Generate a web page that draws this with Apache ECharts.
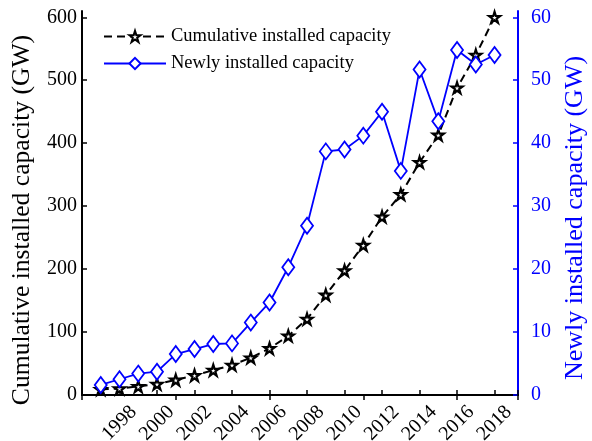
<!DOCTYPE html>
<html>
<head>
<meta charset="utf-8">
<script src="https://cdn.jsdelivr.net/npm/echarts@6/dist/echarts.min.js"></script>
<style>
  html, body { margin: 0; padding: 0; background: #fff; }
  #chart { width: 592px; height: 441px; }
</style>
</head>
<body>
<div id="chart"></div>
<script>
// Wind power installed capacity, 1997-2018
const years = [1997, 1998, 1999, 2000, 2001, 2002, 2003, 2004, 2005, 2006, 2007,
               2008, 2009, 2010, 2011, 2012, 2013, 2014, 2015, 2016, 2017, 2018];
// Cumulative installed capacity (GW), left axis
const cumulative = [9, 10.2, 13.6, 17.4, 23.9, 31.1, 39.4, 47.6, 59.1, 74.0, 93.9,
                    120.6, 158.9, 197.6, 238.0, 283.0, 318.7, 369.6, 413.0, 488.0, 540.0, 600.0];
// Newly installed capacity (GW), right axis
const newly = [1.6, 2.5, 3.4, 3.7, 6.5, 7.3, 8.1, 8.2, 11.5, 14.7, 20.3,
               26.9, 38.7, 39.0, 41.2, 45.0, 35.6, 51.7, 43.5, 54.8, 52.5, 54.0];
// Year labels along the bottom axis
const yearTicks = [1998, 2000, 2002, 2004, 2006, 2008, 2010, 2012, 2014, 2016, 2018];

const FONT = 'Liberation Serif';
const BLUE = '#0000ff';
const STAR = 'path://M50,0 L61.2,34.5 L97.6,34.5 L68.2,55.9 L79.4,90.5 L50,69.1 L20.6,90.5 L31.8,55.9 L2.4,34.5 L38.8,34.5 Z';

// Rotated year labels sit a little to the right of their ticks
const LABEL_SHIFT = 0.75;
const X_MIN = 1996, X_MAX = 2019.25;

const chart = echarts.init(document.getElementById('chart'));
chart.setOption({
  animation: false,
  backgroundColor: '#fff',
  grid: { left: 82, right: 74, top: 11, bottom: 46, outerBoundsMode: 'none', containLabel: false },
  legend: {
    orient: 'vertical',
    left: 98,
    top: 22,
    itemWidth: 62,
    itemHeight: 14,
    itemGap: 8,
    textStyle: { fontFamily: FONT, fontSize: 18.5, color: '#000' },
    data: ['Cumulative installed capacity', 'Newly installed capacity']
  },
  xAxis: [
    {
      type: 'value', position: 'bottom', min: X_MIN, max: X_MAX, interval: 2,
      axisLine: { lineStyle: { color: '#000', width: 2 } },
      axisTick: { inside: true, length: 5, lineStyle: { color: '#000', width: 1.5 } },
      axisLabel: { show: false },
      splitLine: { show: false }
    },
    {
      type: 'value', position: 'top', min: X_MIN, max: X_MAX, interval: 5,
      axisLine: { lineStyle: { color: '#000', width: 2 } },
      axisTick: { inside: true, length: 5, lineStyle: { color: '#000', width: 1.5 } },
      axisLabel: { show: false },
      splitLine: { show: false }
    },
    {
      type: 'value', position: 'bottom',
      min: X_MIN - LABEL_SHIFT, max: X_MAX - LABEL_SHIFT, interval: 0.25,
      axisLine: { show: false },
      axisTick: { show: false },
      splitLine: { show: false },
      axisLabel: {
        rotate: 45, margin: 14,
        fontFamily: FONT, fontSize: 20, color: '#000',
        formatter: function (v) {
          const r = Math.round(v);
          return (Math.abs(v - r) < 1e-6 && yearTicks.indexOf(r) >= 0) ? String(r) : '';
        }
      }
    }
  ],
  yAxis: [
    {
      type: 'value', position: 'left', min: 0, max: 610, interval: 100,
      name: 'Cumulative installed capacity (GW)',
      nameLocation: 'middle', nameGap: 47,
      nameTextStyle: { fontFamily: FONT, fontSize: 25.6, color: '#000', padding: [0, 34, 0, 0] },
      axisLine: { show: true, lineStyle: { color: '#000', width: 2 } },
      axisTick: { show: true, inside: true, length: 5, lineStyle: { color: '#000', width: 1.5 } },
      axisLabel: { showMaxLabel: false, margin: 5, fontFamily: FONT, fontSize: 20, color: '#000' },
      splitLine: { show: false }
    },
    {
      type: 'value', position: 'right', min: 0, max: 61, interval: 10,
      name: 'Newly installed capacity (GW)',
      nameLocation: 'middle', nameGap: 42,
      nameTextStyle: { fontFamily: FONT, fontSize: 26, color: BLUE, padding: [0, 30, 0, 0] },
      axisLine: { show: true, lineStyle: { color: BLUE, width: 2 } },
      axisTick: { show: true, inside: true, length: 5, lineStyle: { color: BLUE, width: 1.5 } },
      axisLabel: { showMaxLabel: false, margin: 13, fontFamily: FONT, fontSize: 20, color: BLUE },
      splitLine: { show: false }
    }
  ],
  series: [
    {
      name: 'Cumulative installed capacity',
      type: 'line', xAxisIndex: 0, yAxisIndex: 0,
      data: years.map((y, i) => [y, cumulative[i]]),
      symbol: STAR, symbolSize: 11,
      lineStyle: { color: '#000', width: 2, type: [8, 5] },
      itemStyle: { color: '#fff', borderColor: '#000', borderWidth: 2.2 }
    },
    {
      name: 'Newly installed capacity',
      type: 'line', xAxisIndex: 0, yAxisIndex: 1,
      data: years.map((y, i) => [y, newly[i]]),
      symbol: 'diamond', symbolSize: [12, 16],
      lineStyle: { color: BLUE, width: 1.8 },
      itemStyle: { color: '#fff', borderColor: BLUE, borderWidth: 1.8 }
    }
  ]
});
</script>
</body>
</html>
